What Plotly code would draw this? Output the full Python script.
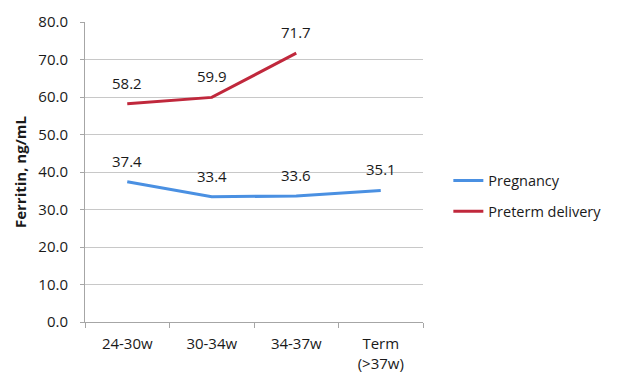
import plotly.graph_objects as go

categories = ["24-30w", "30-34w", "34-37w", "Term<br>(>37w)"]
pregnancy = [37.4, 33.4, 33.6, 35.1]
preterm = [58.2, 59.9, 71.7]
y_ticks = [0, 10, 20, 30, 40, 50, 60, 70, 80]

BLUE = "#4A90E2"
RED = "#C0283C"
FONT = "Open Sans, sans-serif"

fig = go.Figure()
fig.add_trace(go.Scatter(x=categories, y=pregnancy, mode="lines", name="Pregnancy",
                         line=dict(color=BLUE, width=3), legendgroup="a"))
fig.add_trace(go.Scatter(x=categories[:len(preterm)], y=preterm, mode="lines",
                         name="Preterm delivery", line=dict(color=RED, width=3),
                         legendgroup="b"))

# value labels above each point
for xs, ys in ((categories, pregnancy), (categories[:len(preterm)], preterm)):
    for x, y in zip(xs, ys):
        fig.add_annotation(x=x, y=y, text=f"{y:.1f}", showarrow=False, yshift=21,
                           font=dict(size=15, color="#1a1a1a", family=FONT))

fig.update_layout(
    width=620, height=376,
    margin=dict(l=85, r=197, t=22, b=54),
    paper_bgcolor="white", plot_bgcolor="white",
    font=dict(family=FONT, size=15, color="#1a1a1a"),
    showlegend=True,
    legend=dict(x=1.075, y=0.42, xanchor="left", yanchor="middle",
                font=dict(size=14.5), tracegroupgap=9, itemwidth=30),
)
fig.update_xaxes(
    type="category", showline=True, linecolor="#a6a6a6", linewidth=1,
    ticks="outside", tickson="boundaries", ticklen=5, tickcolor="#a6a6a6",
    showgrid=False, range=[-0.5, 3.5], tickfont=dict(size=15),
    ticklabelstandoff=8, automargin=False,
)
fig.update_yaxes(
    range=[0, 80], tickvals=y_ticks, tickformat=".1f",
    showline=True, linecolor="#a6a6a6", linewidth=1,
    ticks="outside", ticklen=4, tickcolor="#a6a6a6",
    gridcolor="#c8c8c8", gridwidth=1, zeroline=False,
    tickfont=dict(size=15), ticklabelstandoff=9, automargin=False,
    title=dict(text="<b>Ferritin, ng/mL</b>", font=dict(size=15), standoff=8),
)

fig.write_html("out.html")
